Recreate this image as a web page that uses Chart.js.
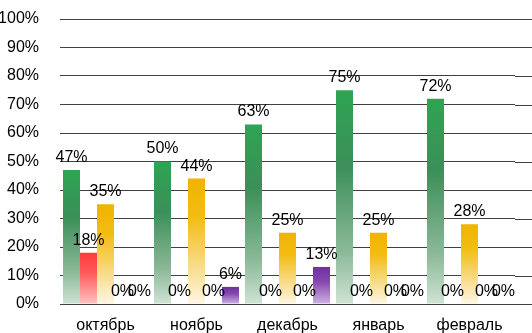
<!DOCTYPE html>
<html>
<head>
<meta charset="utf-8">
<script src="https://cdn.jsdelivr.net/npm/chart.js@4/dist/chart.umd.min.js"></script>
<style>
    html, body { margin: 0; padding: 0; background: #fff; }
    #wrap { width: 532px; height: 333px; }
</style>
</head>
<body>
<div id="wrap"><canvas id="chart"></canvas></div>
<script>
// Months and per-series shares (percent).
const months = ['октябрь', 'ноябрь', 'декабрь', 'январь', 'февраль'];
const greenValues  = [47, 50, 63, 75, 72];
const redValues    = [18, 0, 0, 0, 0];
const orangeValues = [35, 44, 25, 25, 28];
const blueValues   = [0, 0, 0, 0, 0];
const purpleValues = [0, 6, 13, 0, 0];

const FONT = 'Arial, "Liberation Sans", sans-serif';

// Vertical fade from the top of the bar down to its base.
function barGradient(stops) {
    return function (ctx) {
        const chart = ctx.chart;
        if (!chart.chartArea || ctx.type !== 'data') return stops[0][1];
        const y = chart.scales.y;
        const y0 = y.getPixelForValue(ctx.raw);
        const y1 = y.getPixelForValue(0);
        if (y1 - y0 < 1) return stops[0][1];
        const g = chart.ctx.createLinearGradient(0, y0, 0, y1);
        stops.forEach(s => g.addColorStop(s[0], s[1]));
        return g;
    };
}

function makeSet(label, values, stops) {
    return {
        label: label,
        data: values,
        backgroundColor: barGradient(stops),
        borderWidth: 0,
        categoryPercentage: 0.934,
        barPercentage: 1
    };
}

// Grid lines run on to the right edge of the canvas.
const gridExtend = {
    id: 'gridExtend',
    beforeDatasetsDraw(chart) {
        const { ctx, chartArea } = chart;
        const y = chart.scales.y;
        ctx.save();
        ctx.strokeStyle = '#404040';
        ctx.lineWidth = 1;
        y.ticks.forEach(t => {
            const py = Math.round(y.getPixelForValue(t.value)) + 0.5;
            ctx.beginPath();
            ctx.moveTo(chartArea.right, py);
            ctx.lineTo(chart.width, py);
            ctx.stroke();
        });
        ctx.restore();
    }
};

// Percent label above each bar.
const valueLabels = {
    id: 'valueLabels',
    afterDatasetsDraw(chart) {
        const ctx = chart.ctx;
        ctx.save();
        ctx.font = '16px ' + FONT;
        ctx.fillStyle = '#000';
        ctx.textAlign = 'center';
        ctx.textBaseline = 'middle';
        chart.data.datasets.forEach((ds, i) => {
            chart.getDatasetMeta(i).data.forEach((bar, j) => {
                ctx.fillText(ds.data[j] + '%', bar.x, bar.y - 12.5);
            });
        });
        ctx.restore();
    }
};

new Chart(document.getElementById('chart'), {
    type: 'bar',
    data: {
        labels: months,
        datasets: [
            makeSet('A', greenValues, [[0, '#2ea452'], [0.35, '#3b8f58'], [0.75, '#8ab897'], [1, '#cfe3d4']]),
            makeSet('B', redValues, [[0, '#ff3b3b'], [0.4, '#ff5a5a'], [1, '#ffc4c4']]),
            makeSet('C', orangeValues, [[0, '#f0b400'], [0.3, '#f2bc12'], [0.7, '#f8dc8a'], [1, '#fff6e4']]),
            makeSet('D', blueValues, [[0, '#4472c4'], [1, '#c9d6ef']]),
            makeSet('E', purpleValues, [[0, '#7030a0'], [0.4, '#8548b0'], [1, '#cdb2e4']])
        ]
    },
    options: {
        animation: false,
        responsive: true,
        maintainAspectRatio: false,
        layout: { padding: { top: 19, right: 17, left: 0, bottom: 0 } },
        plugins: {
            legend: { display: false },
            tooltip: { enabled: false }
        },
        scales: {
            x: {
                grid: { display: false },
                border: { display: false },
                ticks: { color: '#000', font: { size: 16, family: FONT }, padding: 4 },
                afterFit(scale) { scale.height = 29; }
            },
            y: {
                min: 0,
                max: 100,
                grid: { color: '#404040', lineWidth: 1, drawTicks: true, tickLength: 21, tickColor: 'rgba(0,0,0,0)' },
                border: { display: false },
                ticks: {
                    stepSize: 10,
                    color: '#000',
                    font: { size: 16, family: FONT },
                    padding: 0,
                    callback: v => v + '%'
                },
                afterFit(scale) { scale.width = 60; }
            }
        }
    },
    plugins: [gridExtend, valueLabels]
});
</script>
</body>
</html>
